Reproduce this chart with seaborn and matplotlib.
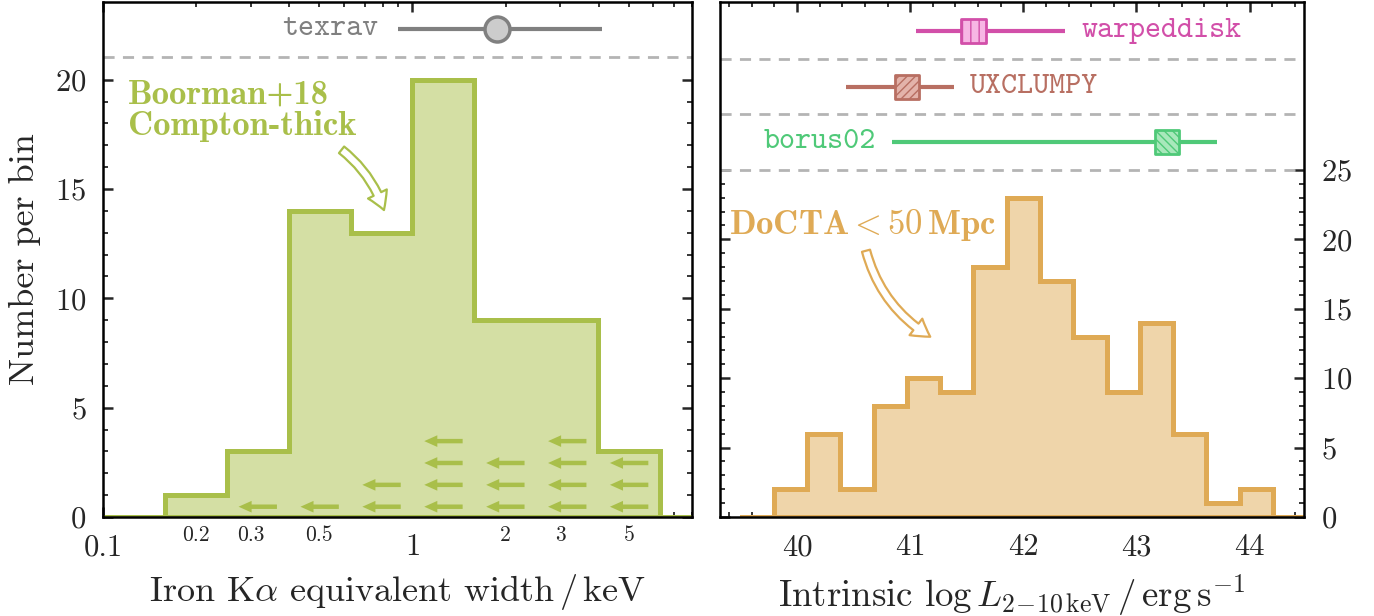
import numpy as np
import pandas as pd
import matplotlib
matplotlib.use("Agg")
import matplotlib.pyplot as plt
import seaborn as sns
from matplotlib.ticker import FixedLocator, FuncFormatter, LogLocator

# ---------------- data ----------------
# Left: iron K-alpha equivalent width histogram (log10 keV bin edges)
ew_log_edges = [-1.0, -0.8, -0.6, -0.4, -0.2, 0.0, 0.2, 0.4, 0.6, 0.8, 1.0]
ew_counts = [0, 1, 3, 14, 13, 20, 9, 9, 3, 0]
ew_upper_limits = [0, 0, 1, 1, 2, 4, 3, 4, 3, 0]

# texrav constraint on EW (keV)
texrav_median = 1.88
texrav_lo = 0.90
texrav_hi = 4.10

# Right: intrinsic log L(2-10 keV) histogram
lum_bin_start = 39.5
lum_bin_stop = 44.5
lum_n_bins = 17
lum_counts = [0, 2, 6, 2, 8, 10, 9, 18, 23, 17, 13, 9, 14, 6, 1, 2, 0]

# Model constraints on log L
model_names = ["warpeddisk", "UXCLUMPY", "borus02"]
model_median = [41.56, 40.97, 43.27]
model_lo = [41.05, 40.43, 40.84]
model_hi = [42.37, 41.39, 43.71]

# ---------------- style ----------------
sns.set_theme(style="ticks")
plt.rcParams.update({
    "font.family": ["cmr10", "DejaVu Sans"],
    "mathtext.fontset": "cm",
    "axes.unicode_minus": False,
    "axes.formatter.use_mathtext": True,
    "axes.linewidth": 1.8,
    "axes.edgecolor": "black",
})

green = "#a9bf4a"
green_fill = "#d4dfa4"
orange = "#dfaa55"
orange_fill = "#efd5aa"
gray = "#808080"
dash_gray = "#b4b4b4"
model_colors = ["#d24fa9", "#b86f62", "#4fc978"]
model_faces = ["#f7b6e4", "#e3b3aa", "#a8e8bb"]
model_hatches = ["||", "////", "\\\\\\\\"]
model_rows = [35, 31, 27]
model_text_side = ["right", "right", "left"]

fig = plt.figure(figsize=(13.74, 6.16), dpi=100)
ax1 = fig.add_axes([103 / 1374, 99 / 616, 589 / 1374, 515 / 616])
ax2 = fig.add_axes([720 / 1374, 99 / 616, 584 / 1374, 515 / 616])

# ---------------- left panel ----------------
e = np.array(ew_log_edges)
ew_centers = 10 ** ((e[:-1] + e[1:]) / 2)
df_ew = pd.DataFrame({"ew": ew_centers, "n": ew_counts})
sns.histplot(data=df_ew, x="ew", weights="n", bins=ew_log_edges, log_scale=True,
             element="step", fill=True, facecolor=green_fill, edgecolor=green,
             linewidth=3.6, alpha=1, joinstyle="miter", ax=ax1, zorder=1)

half = 0.062
for c, nul in zip(np.log10(ew_centers), ew_upper_limits):
    for k in range(nul):
        yy = k + 0.47
        ax1.annotate("", xy=(10 ** (c - half), yy), xytext=(10 ** (c + half), yy),
                     xycoords="data", textcoords="data",
                     arrowprops=dict(arrowstyle="simple,head_length=0.47,head_width=0.42,tail_width=0.16",
                                     color=green, shrinkA=0, shrinkB=0, mutation_scale=20, lw=0),
                     zorder=3)

ax1.set_xlim(0.1, 8.0)
ax1.set_ylim(0, 23.55)
ax1.axhline(21.05, color=dash_gray, ls=(0, (4, 3)), lw=2.0)
ty = 22.3
ax1.plot([texrav_lo, texrav_hi], [ty, ty], color=gray, lw=3, solid_capstyle="butt")
ax1.plot([texrav_median], [ty], marker="o", ms=18, mfc="#cccccc", mec=gray, mew=2.5)
ax1.annotate("texrav", xy=(texrav_lo, ty), xytext=(-20, 0), textcoords="offset pixels",
             ha="right", va="center", color=gray, fontsize=22, family="cmtt10")

ax1.text(0.042, 0.85, "Boorman+18\nCompton-thick", transform=ax1.transAxes,
         ha="left", va="top", color=green, fontsize=25, family="cmb10", linespacing=1.0)
ax1.annotate("", xy=(0.477, 0.596), xytext=(0.405, 0.713), xycoords="axes fraction",
             textcoords="axes fraction",
             arrowprops=dict(arrowstyle="simple,head_length=0.5,head_width=0.6,tail_width=0.24",
                             fc="white", ec=green, lw=1.6, shrinkA=0, shrinkB=0,
                             mutation_scale=25, connectionstyle="arc3,rad=-0.15"))

ax1.xaxis.set_major_locator(LogLocator(base=10, numticks=10))
ax1.xaxis.set_minor_locator(LogLocator(base=10, subs=np.arange(2, 10), numticks=20))
ax1.xaxis.set_major_formatter(FuncFormatter(lambda v, p: f"{v:g}"))


def minor_fmt(v, p):
    m = v / 10 ** np.floor(np.log10(v) + 1e-9)
    return f"{v:g}" if int(round(m)) in (2, 3, 5) else ""


ax1.xaxis.set_minor_formatter(FuncFormatter(minor_fmt))
ax1.yaxis.set_major_locator(FixedLocator([0, 5, 10, 15, 20]))
ax1.yaxis.set_minor_locator(FixedLocator(list(range(0, 21))))
ax1.tick_params(axis="both", which="both", direction="in", top=True, right=True)
ax1.tick_params(axis="both", which="major", length=7, width=1.8, labelsize=22, pad=12)
ax1.tick_params(axis="both", which="minor", length=3.8, width=1.3)
ax1.tick_params(axis="x", which="minor", labelsize=15.5, pad=6)
ax1.set_xlabel(r"Iron K$\alpha$ equivalent width$\,/\,$keV", fontsize=26, labelpad=8)
ax1.set_ylabel("Number per bin", fontsize=26, labelpad=10)

# ---------------- right panel ----------------
lum_edges = [float(v) for v in np.linspace(lum_bin_start, lum_bin_stop, lum_n_bins + 1)]
le = np.array(lum_edges)
lum_centers = (le[:-1] + le[1:]) / 2
df_l = pd.DataFrame({"logL": lum_centers, "n": lum_counts})
sns.histplot(data=df_l, x="logL", weights="n", bins=lum_edges,
             element="step", fill=True, facecolor=orange_fill, edgecolor=orange,
             linewidth=3.6, alpha=1, joinstyle="miter", ax=ax2, zorder=1)

ax2.set_xlim(39.32, 44.48)
ax2.set_ylim(0, 37.1)
for yl in [25, 29, 33]:
    ax2.axhline(yl, color=dash_gray, ls=(0, (4, 3)), lw=2.0)

for name, med, lo, hi, col, fc, hat, row, side in zip(
        model_names, model_median, model_lo, model_hi, model_colors, model_faces,
        model_hatches, model_rows, model_text_side):
    ax2.plot([lo, hi], [row, row], color=col, lw=3, solid_capstyle="butt", zorder=3)
    ax2.scatter([med], [row], marker="s", s=300, facecolor=fc, edgecolor=col,
                linewidth=2, hatch=hat, zorder=4)
    if side == "right":
        ax2.annotate(name, xy=(hi, row), xytext=(16, 0), textcoords="offset pixels",
                     ha="left", va="center", color=col, fontsize=22, family="cmtt10")
    else:
        ax2.annotate(name, xy=(lo, row), xytext=(-16, 0), textcoords="offset pixels",
                     ha="right", va="center", color=col, fontsize=22, family="cmtt10")

ax2.text(0.015, 0.5495, r"$\mathbf{DoCTA} < \mathbf{50\,Mpc}$", transform=ax2.transAxes,
         ha="left", va="baseline", color=orange, fontsize=25)
ax2.annotate("", xy=(0.36, 0.35), xytext=(0.25, 0.517), xycoords="axes fraction",
             textcoords="axes fraction",
             arrowprops=dict(arrowstyle="simple,head_length=0.5,head_width=0.6,tail_width=0.24",
                             fc="white", ec=orange, lw=1.6, shrinkA=0, shrinkB=0,
                             mutation_scale=25, connectionstyle="arc3,rad=0.2"))

ax2.xaxis.set_major_locator(FixedLocator([40, 41, 42, 43, 44]))
ax2.xaxis.set_minor_locator(FixedLocator(np.arange(39.4, 44.5, 0.2)))
ax2.xaxis.set_major_formatter(FuncFormatter(lambda v, p: f"{v:g}"))
ax2.yaxis.set_major_locator(FixedLocator([0, 5, 10, 15, 20, 25]))
ax2.yaxis.set_minor_locator(FixedLocator(list(range(0, 26))))
ax2.tick_params(axis="both", which="both", direction="in", top=True, right=True, left=True)
ax2.tick_params(axis="y", which="both", labelleft=False, labelright=True)
ax2.tick_params(axis="both", which="major", length=7, width=1.8, labelsize=22, pad=12)
ax2.tick_params(axis="both", which="minor", length=3.8, width=1.3)
ax2.set_xlabel(r"Intrinsic $\log L_{2\!-\!10\,\mathrm{keV}}\,/\,\mathrm{erg\,s^{-1}}$",
               fontsize=26.5, labelpad=8)
ax2.set_ylabel("")

fig.savefig("out.png", dpi=100)
